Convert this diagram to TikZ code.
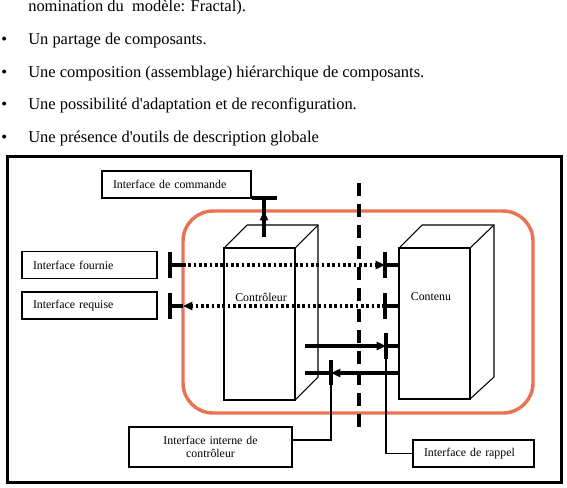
\documentclass[tikz,border=0pt]{standalone}
\usepackage{fontspec}
\setmainfont{Liberation Serif}
\usetikzlibrary{arrows.meta}
\definecolor{rim}{RGB}{232,116,86}
\tikzset{
  bultext/.style={anchor=base west, inner sep=0pt, font=\fontsize{12.35pt}{14pt}\selectfont},
  ibox/.style={draw, line width=0.8pt, align=left, inner xsep=8.25pt, inner ysep=0pt, minimum height=20.25pt, font=\fontsize{8.9pt}{9.8pt}\selectfont},
  cube/.style={line width=0.8pt},
  tbar/.style={line width=3.2pt},
  pipe/.style={line width=2.3pt},
  dots/.style={line width=2.3pt, dash pattern=on 2pt off 2pt},
  wire/.style={line width=1.1pt},
  tip/.style={-{Triangle[length=7pt,width=6pt]}}
}
\begin{document}
\begin{tikzpicture}[x=0.75pt,y=-0.75pt]
\useasboundingbox (0,0) rectangle (567,487);
\node[bultext] (t1) at (28,11) {nomination du\ \ modèle: Fractal).};
\node[bultext] (b2) at (1,44) {\textbullet};
\node[bultext] (t2) at (28,44) {Un partage de composants.};
\node[bultext] (b3) at (1,77) {\textbullet};
\node[bultext] (t3) at (28,77) {Une composition (assemblage) hiérarchique de composants.};
\node[bultext] (b4) at (1,109.5) {\textbullet};
\node[bultext] (t4) at (28,109.5) {Une possibilité d\textquotesingle adaptation et de reconfiguration.};
\node[bultext] (b5) at (1,142) {\textbullet};
\node[bultext] (t5) at (28,142) {Une présence d\textquotesingle outils de description globale};
\draw[line width=2.25pt] (7.5,156.5) rectangle (561.5,482);
\draw[rim, line width=2.6pt, rounded corners=22.5pt] (183,211) rectangle (533,413);
\draw[cube] (224,248) rectangle (295,400);
\draw[cube] (224,248) -- (247,225) -- (318,225) -- (318,377) -- (295,400);
\draw[cube] (295,248) -- (318,225);
\draw[cube] (399,248) rectangle (470,399);
\draw[cube] (399,248) -- (422,225) -- (494,225) -- (494,377) -- (470,399);
\draw[cube] (470,248) -- (494,225);
\node[font=\fontsize{8.9pt}{10pt}\selectfont] (ctrl) at (261,297) {Contrôleur};
\node[font=\fontsize{8.9pt}{10pt}\selectfont] (cont) at (431,297) {Contenu};
\draw[line width=3pt, dash pattern=on 9.75pt off 6pt] (359,183) -- (359,432);
\node[ibox, text width=95.25pt] (cmd) at (176.5,184.5) {Interface de commande};
\node[ibox, text width=84.75pt] (four) at (89.5,265) {Interface fournie};
\node[ibox, text width=84.75pt] (requ) at (89.5,305.5) {Interface requise};
\node[ibox, align=center, text width=105.75pt, minimum height=30pt] (intc) at (210.5,447) {Interface interne de\\contrôleur};
\node[ibox, text width=74.25pt] (rapp) at (473.5,453.5) {Interface de rappel};
\coordinate (cmdT) at (264,198);
\coordinate (cmdO) at (264,211);
\coordinate (cmdC) at (264,237);
\draw[tbar] (252,198) -- (277,198);
\draw[pipe] (cmdC) -- (cmdT);
\draw[pipe, tip] (cmdC) -- (cmdO);
\coordinate (fT) at (170,265);
\coordinate (fO) at (183,265);
\coordinate (fC) at (385,265);
\coordinate (fK) at (399,265);
\draw[tbar] (170,252) -- (170,278);
\draw[tbar] (385,252) -- (385,278);
\draw[pipe] (fT) -- (fO);
\draw[dots, tip] (fO) -- (fC);
\draw[pipe] (fC) -- (fK);
\coordinate (rT) at (170,306);
\coordinate (rO) at (183,306);
\coordinate (rC) at (385,306);
\coordinate (rK) at (399,306);
\draw[tbar] (170,293) -- (170,319);
\draw[tbar] (385,293) -- (385,319);
\draw[pipe] (rT) -- (rO);
\draw[dots, tip] (rC) -- (rO);
\draw[pipe] (rC) -- (rK);
\coordinate (a1s) at (305,346);
\coordinate (a1T) at (386,346);
\coordinate (a1K) at (399,346);
\coordinate (a1B) at (386,359);
\draw[pipe, tip] (a1s) -- (a1T);
\draw[pipe] (a1T) -- (a1K);
\draw[tbar] (386,333) -- (a1B);
\draw[wire] (a1B) |- (rapp.west);
\coordinate (a2s) at (305,373);
\coordinate (a2T) at (331,373);
\coordinate (a2K) at (399,373);
\coordinate (a2B) at (331,385);
\draw[pipe, tip] (a2K) -- (a2T);
\draw[pipe] (a2T) -- (a2s);
\draw[tbar] (331,360) -- (a2B);
\draw[wire] (a2B) |- (intc.5);
\end{tikzpicture}
\end{document}
